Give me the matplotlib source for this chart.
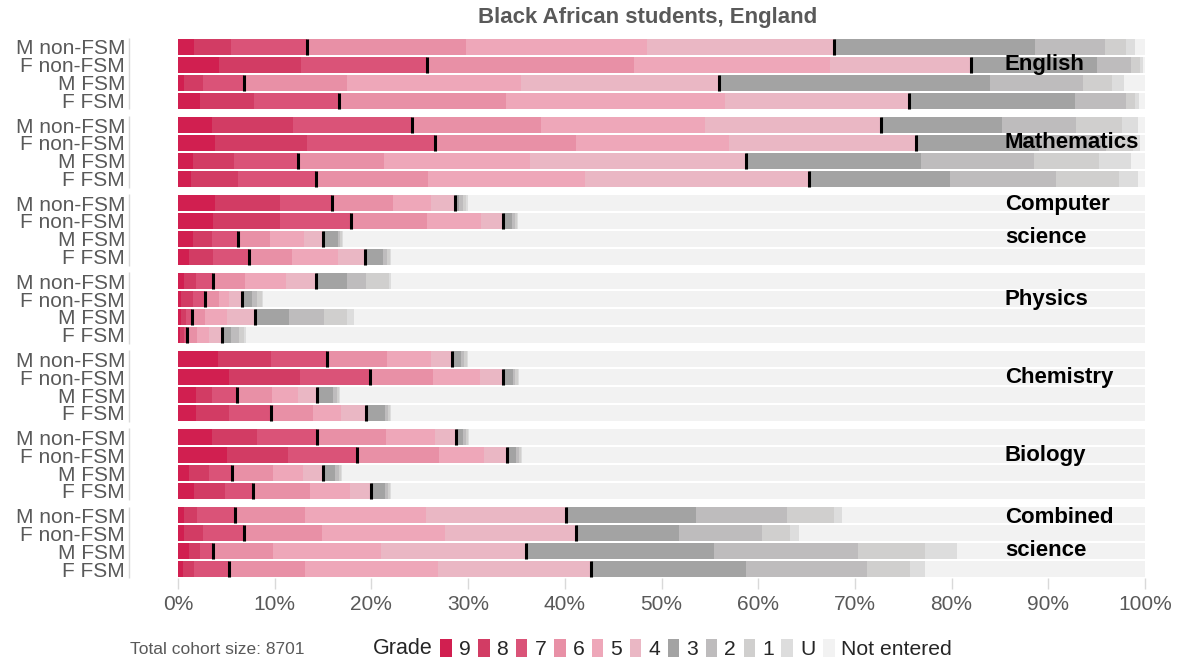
import matplotlib
matplotlib.use('Agg')
import matplotlib.pyplot as plt
import numpy as np

plt.rcParams['font.family'] = ['Liberation Sans', 'DejaVu Sans']

# grades, in drawing order
grades = ['9', '8', '7', '6', '5', '4', '3', '2', '1', 'U', 'Not entered']
grade_colors = ['#D11F50', '#D23C64', '#DA5378', '#E890A6', '#EEA7B9', '#EAB7C4',
                '#A3A3A3', '#BEBCBD', '#D0CFCE', '#DDDDDD', '#F2F2F2']

groups = ['M non-FSM', 'F non-FSM', 'M FSM', 'F FSM']
subjects = ['English', 'Mathematics', 'Computer\nscience', 'Physics',
            'Chemistry', 'Biology', 'Combined\nscience']

# cumulative % reaching each grade (9, 8+, 7+, ... U), rest is not entered
english = [[1.7, 5.5, 13.3, 29.8, 48.5, 67.8, 88.6, 95.9, 98.0, 99.0],
           [4.2, 12.7, 25.8, 47.2, 67.4, 82.0, 95.0, 98.6, 99.5, 99.8],
           [0.6, 2.6, 6.8, 17.5, 35.5, 55.9, 84.0, 93.6, 96.6, 97.8],
           [2.3, 7.9, 16.7, 33.9, 56.6, 75.6, 92.8, 98.0, 99.0, 99.4]]
maths = [[3.5, 11.9, 24.2, 37.5, 54.5, 72.7, 85.2, 92.9, 97.6, 99.3],
         [3.8, 13.3, 26.6, 41.2, 57.0, 76.3, 89.0, 96.0, 98.8, 99.5],
         [1.6, 5.8, 12.4, 21.3, 36.4, 58.7, 76.8, 88.5, 95.2, 98.6],
         [1.3, 6.2, 14.3, 25.9, 42.1, 65.3, 79.8, 90.8, 97.3, 99.3]]
compsci = [[3.8, 10.5, 15.9, 22.2, 26.2, 28.6, 29.1, 29.5, 29.8, 30.0],
           [3.6, 10.5, 17.9, 25.8, 31.3, 33.6, 34.5, 34.9, 35.1, 35.2],
           [1.5, 3.5, 6.2, 9.5, 13.0, 15.0, 16.5, 16.8, 17.0, 17.1],
           [1.1, 3.6, 7.3, 11.8, 16.5, 19.3, 21.2, 21.6, 21.9, 22.0]]
physics = [[0.6, 1.9, 3.6, 6.9, 11.2, 14.3, 17.5, 19.4, 21.8, 22.0],
           [0.3, 1.6, 2.8, 4.2, 5.3, 6.6, 7.7, 8.2, 8.7, 8.8],
           [0.3, 0.8, 1.4, 2.8, 5.1, 8.0, 11.5, 15.1, 17.5, 18.2],
           [0.2, 0.6, 0.9, 2.0, 3.2, 4.5, 5.5, 6.3, 6.8, 7.0]]
chemistry = [[4.1, 9.6, 15.4, 21.6, 26.2, 28.3, 29.3, 29.6, 29.9, 30.0],
             [5.3, 12.6, 19.9, 26.4, 31.2, 33.6, 34.6, 34.9, 35.2, 35.3],
             [1.9, 3.5, 6.1, 9.7, 12.4, 14.4, 16.0, 16.4, 16.7, 16.8],
             [1.9, 5.3, 9.6, 14.0, 16.9, 19.4, 21.4, 21.7, 21.9, 22.0]]
biology = [[3.5, 8.2, 14.4, 21.5, 26.6, 28.7, 29.5, 29.8, 30.0, 30.1],
           [5.1, 11.4, 18.5, 27.0, 31.6, 34.0, 35.0, 35.3, 35.5, 35.6],
           [1.1, 3.2, 5.6, 9.8, 12.9, 15.0, 16.2, 16.6, 16.9, 17.0],
           [1.7, 4.9, 7.8, 13.7, 17.8, 20.0, 21.4, 21.7, 21.9, 22.0]]
combined = [[0.6, 2.0, 5.9, 13.1, 25.6, 40.1, 53.6, 63.0, 67.8, 68.7],
            [0.6, 2.6, 6.8, 14.9, 27.6, 41.2, 51.8, 60.4, 63.3, 64.2],
            [1.1, 2.3, 3.6, 9.8, 21.0, 36.0, 55.4, 70.3, 77.3, 80.6],
            [0.5, 1.7, 5.3, 13.1, 26.9, 42.7, 58.7, 71.2, 75.7, 77.3]]

all_data = [english, maths, compsci, physics, chemistry, biology, combined]
cohort = 8701

fig = plt.figure(figsize=(11.81, 6.64), dpi=100)
W, H = 1181, 664
ax = fig.add_axes([178 / W, 1 - 578 / H, (1145 - 178) / W, (578 - 38) / H])

stride = 4.37
bar_h = 0.9
ypos = []
ylabels = []
for s, data in enumerate(all_data):
    for r, cum in enumerate(data):
        y = s * stride + r
        ypos.append(y)
        ylabels.append(groups[r])
        edges = np.concatenate([[0], np.array(cum) / 100, [1.0]])
        widths = np.diff(edges)
        ax.barh(y, widths, left=edges[:-1], height=bar_h,
                color=grade_colors, linewidth=0)
        # markers at 7+ and 4+
        for k in [2, 5]:
            ax.vlines(cum[k] / 100, y - bar_h / 2, y + bar_h / 2,
                      color='black', lw=2.2)
    # panel axis line on the left
    ax.vlines(-0.0507, s * stride - 0.5, s * stride + 3.5, color='#D9D9D9',
              lw=1, transform=ax.get_yaxis_transform(), clip_on=False)
    lines = subjects[s].split('\n')
    if len(lines) == 1:
        ax.text(0.855, s * stride + 1, lines[0], fontsize=16, fontweight='bold',
                va='center', ha='left', color='black')
    else:
        ax.text(0.855, s * stride + 0.1, lines[0], fontsize=16, fontweight='bold',
                va='center', ha='left', color='black')
        ax.text(0.855, s * stride + 1.95, lines[1], fontsize=16, fontweight='bold',
                va='center', ha='left', color='black')

ax.set_xlim(0, 1)
ax.set_ylim(6 * stride + 3.5, -0.5)
ax.set_yticks(ypos)
ax.set_yticklabels(ylabels, fontsize=15, color='#595959')
ax.tick_params(axis='y', length=0, pad=38)
ax.set_xticks(np.arange(0, 1.01, 0.1))
ax.set_xticklabels([f'{int(round(v * 100))}%' for v in np.arange(0, 1.01, 0.1)],
                   fontsize=15, color='#595959')
ax.tick_params(axis='x', length=8, color='#D9D9D9', width=1, pad=4)
for sp in ax.spines.values():
    sp.set_visible(False)

fig.text(648 / W, 1 - 18 / H, 'Black African students, England', fontsize=16,
         fontweight='bold', color='#595959', ha='center', va='center')
fig.text(130 / W, 1 - 650 / H, f'Total cohort size: {cohort}', fontsize=12.5,
         color='#595959', ha='left', va='center')
fig.text(373 / W, 1 - 649 / H, 'Grade', fontsize=15.5, color='#262626',
         ha='left', va='center')

handles = [plt.Rectangle((0, 0), 1, 1, color=c, lw=0) for c in grade_colors]
fig.legend(handles, grades, loc='center left', bbox_to_anchor=(440 / W, 1 - 649 / H),
           ncol=len(grades), frameon=False, fontsize=15.2, handlelength=0.55,
           handleheight=0.9, handletextpad=0.33, columnspacing=0.36,
           borderpad=0, borderaxespad=0, labelcolor='#262626')

fig.savefig('out.png', dpi=100)
